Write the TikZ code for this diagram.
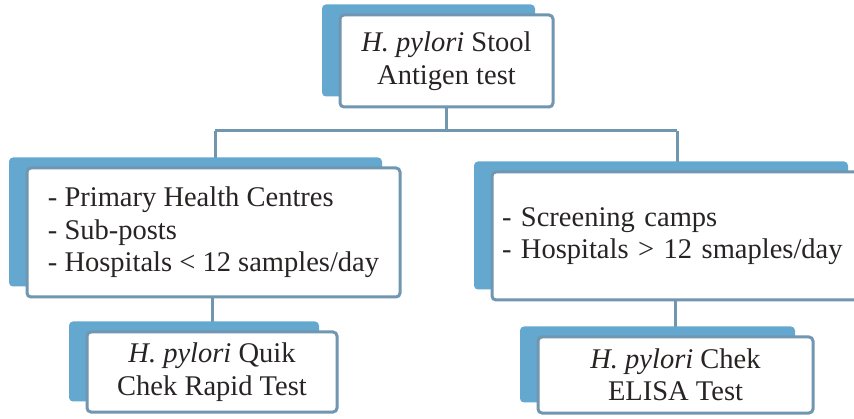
\documentclass[tikz,border=0pt]{standalone}
\usepackage{fontspec}
\setmainfont{Liberation Serif}
\usetikzlibrary{shadows,backgrounds}
\definecolor{shadowcol}{RGB}{100,168,208}
\definecolor{bordercol}{RGB}{112,150,176}
\definecolor{inkcol}{RGB}{40,36,36}
\tikzset{
  box/.style={draw=bordercol, line width=3pt, fill=white, rounded corners=4pt,
    text=inkcol, font=\fontsize{28.5}{32.5}\selectfont, inner sep=0pt,
    general shadow={fill=shadowcol, shadow xshift=-18pt, shadow yshift=10.5pt}},
  conn/.style={draw=bordercol, line width=3pt}
}
\begin{document}
\begin{tikzpicture}[x=1pt,y=-1pt]
\useasboundingbox (0,0) rectangle (854,419);
\node[box, minimum width=213pt, minimum height=92pt, align=center] (top) at (446.5,61)
  {\textit{H. pylori} Stool\\Antigen test};
\node[box, minimum width=373pt, minimum height=129pt, align=left] (left) at (213.5,232.5)
  {- Primary Health Centres\\- Sub-posts\\- Hospitals < 12 samples/day};
\node[box, minimum width=374pt, minimum height=128pt, text width=354pt, inner xsep=10pt, align=left] (right) at (679,236)
  {- Screening camps\\- Hospitals > 12 smaples/day};
\node[box, minimum width=250pt, minimum height=80pt, align=center] (bl) at (212,372)
  {\textit{H. pylori} Quik\\Chek Rapid Test};
\node[box, minimum width=275pt, minimum height=76pt, align=center] (br) at (675.5,375)
  {\textit{H. pylori} Chek\\ELISA Test};
\coordinate (jl) at (215,131);
\coordinate (jr) at (677,131);
\begin{scope}[on background layer]
\draw[conn] (jl) -- (jr);
\draw[conn] (top.south) -- (top.south |- jl);
\draw[conn] (jl) -- (jl |- left.north);
\draw[conn] (jr) -- (jr |- right.north);
\draw[conn] (bl.north) -- (bl.north |- left.south);
\draw[conn] (br.north) -- (br.north |- right.south);
\end{scope}
\end{tikzpicture}
\end{document}
